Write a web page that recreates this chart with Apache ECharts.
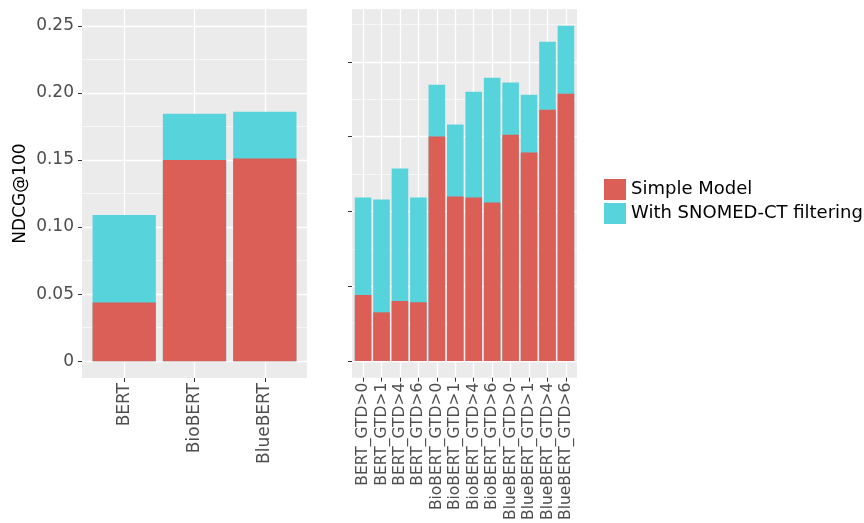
<!DOCTYPE html>
<html>
<head>
<meta charset="utf-8">
<script src="https://cdn.jsdelivr.net/npm/echarts@6/dist/echarts.min.js"></script>
<style>
  html, body { margin: 0; padding: 0; background: #fff; }
  #chart { width: 864px; height: 523px; }
</style>
</head>
<body>
<div id="chart"></div>
<script>
// left panel: models (GTD>0)
const leftCategories = ['BERT', 'BioBERT', 'BlueBERT'];
const leftSimple = [0.0437, 0.150, 0.151];
const leftSnomed = [0.109, 0.1845, 0.186];

// right panel: models by GTD threshold
const rightCategories = [
  'BERT_GTD>0', 'BERT_GTD>1', 'BERT_GTD>4', 'BERT_GTD>6',
  'BioBERT_GTD>0', 'BioBERT_GTD>1', 'BioBERT_GTD>4', 'BioBERT_GTD>6',
  'BlueBERT_GTD>0', 'BlueBERT_GTD>1', 'BlueBERT_GTD>4', 'BlueBERT_GTD>6'
];
const rightSimple = [0.0441, 0.0325, 0.0401, 0.0392, 0.1500, 0.1099, 0.1093, 0.1059, 0.1513, 0.1393, 0.1680, 0.1787];
const rightSnomed = [0.1093, 0.1080, 0.1286, 0.1093, 0.1847, 0.1580, 0.1800, 0.1894, 0.1861, 0.1780, 0.2134, 0.2241];

// tick labels
const leftYTicks = [0, 0.05, 0.10, 0.15, 0.20, 0.25];
const rightYTicks = [0, 0.05, 0.10, 0.15, 0.20];

const RED = '#DB5F57';
const CYAN = '#57D3DB';
const PANEL = '#EBEBEB';
const TXT = '#4D4D4D';

const chart = echarts.init(document.getElementById('chart'));

// ggplot style x axis: discrete positions 0..n-1, 0.6 padding each side
function makeXAxis(gridIndex, cats, fontSize, margin) {
  const pos = cats.map((c, i) => i);
  return {
    type: 'value',
    gridIndex: gridIndex,
    min: -0.6,
    max: cats.length - 0.4,
    axisLine: { show: false, onZero: false },
    axisTick: { show: true, length: 4, lineStyle: { color: '#333', width: 1 }, customValues: pos },
    axisLabel: {
      customValues: pos,
      rotate: 90,
      margin: margin,
      fontSize: fontSize,
      color: TXT,
      fontFamily: 'DejaVu Sans',
      formatter: v => cats[Math.round(v)]
    },
    splitLine: { show: true, lineStyle: { color: '#fff', width: 1.3 } },
    minorSplitLine: { show: false }
  };
}

function makeYAxis(gridIndex, ticks, min, max, showLabels) {
  return {
    type: 'value',
    gridIndex: gridIndex,
    min: min,
    max: max,
    minInterval: 0.05,
    maxInterval: 0.05,
    axisLine: { show: false, onZero: false },
    axisTick: { show: true, length: 4, lineStyle: { color: '#333', width: 1 }, customValues: ticks },
    axisLabel: {
      show: showLabels,
      customValues: ticks,
      margin: 8,
      fontSize: 17,
      color: TXT,
      fontFamily: 'DejaVu Sans',
      formatter: v => (v === 0 ? '0' : v.toFixed(2))
    },
    splitLine: { show: true, lineStyle: { color: '#fff', width: 1.3 } },
    minorTick: { show: false, splitNumber: 2 },
    minorSplitLine: { show: true, lineStyle: { color: '#fff', width: 0.6 } }
  };
}

function barSeries(name, color, xi, vals) {
  return {
    name: name,
    type: 'bar',
    xAxisIndex: xi,
    yAxisIndex: xi,
    barWidth: '90%',
    barGap: '-100%',
    itemStyle: { color: color },
    data: vals.map((v, i) => [i, v])
  };
}

const rightMax = Math.max(...rightSnomed);

const option = {
  animation: false,
  backgroundColor: '#fff',
  grid: [
    { left: 82, top: 9, width: 225, height: 369, show: true, backgroundColor: PANEL, borderWidth: 0 },
    { left: 352, top: 9, width: 225, height: 369, show: true, backgroundColor: PANEL, borderWidth: 0 }
  ],
  legend: {
    data: ['Simple Model', 'With SNOMED-CT filtering'],
    orient: 'vertical',
    left: 604,
    top: 179,
    padding: 0,
    icon: 'rect',
    itemWidth: 22,
    itemHeight: 21,
    itemGap: 3,
    selectedMode: false,
    textStyle: { fontSize: 18, color: '#000', fontFamily: 'DejaVu Sans' }
  },
  xAxis: [
    makeXAxis(0, leftCategories, 17, 5),
    makeXAxis(1, rightCategories, 15.5, 5)
  ],
  yAxis: [
    Object.assign(makeYAxis(0, leftYTicks, -0.0125, 0.2625, true), {
      name: 'NDCG@100',
      nameLocation: 'middle',
      nameGap: 53,
      nameTextStyle: { fontSize: 17, color: '#000', fontFamily: 'DejaVu Sans' }
    }),
    makeYAxis(1, rightYTicks, -rightMax * 0.05, rightMax * 1.05, false)
  ],
  series: [
    barSeries('With SNOMED-CT filtering', CYAN, 0, leftSnomed),
    barSeries('Simple Model', RED, 0, leftSimple),
    barSeries('With SNOMED-CT filtering', CYAN, 1, rightSnomed),
    barSeries('Simple Model', RED, 1, rightSimple)
  ]
};

chart.setOption(option);
window.addEventListener('resize', () => chart.resize());
</script>
</body>
</html>
